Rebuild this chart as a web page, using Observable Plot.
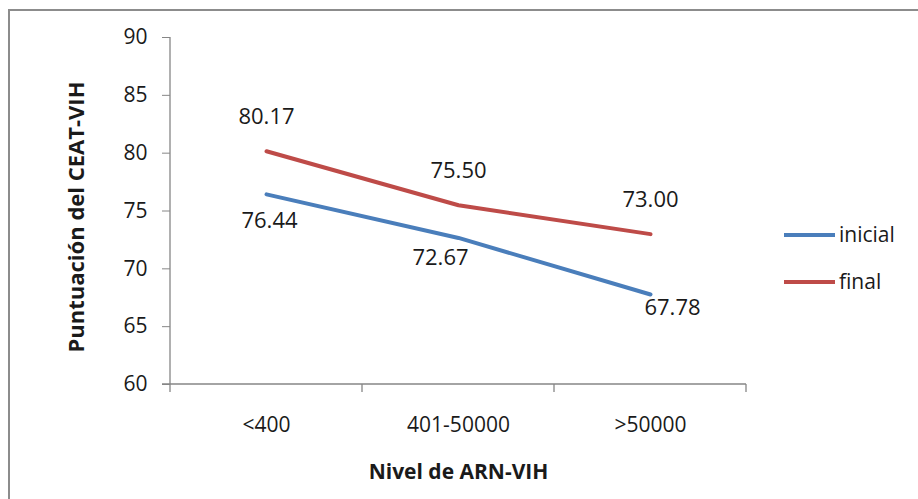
<!DOCTYPE html>
<html>
<head>
<meta charset="utf-8">
<script src="https://cdn.jsdelivr.net/npm/d3@7"></script>
<script src="https://cdn.jsdelivr.net/npm/@observablehq/plot@0.6"></script>
<style>
  html, body { margin: 0; padding: 0; background: #fff; }
  #wrap { position: relative; width: 918px; height: 499px; overflow: hidden; background: #fff; }
  #border { position: absolute; left: 8px; top: 9px; width: 1000px; height: 1000px; border: 2px solid #8c8c8c; box-sizing: border-box; }
  #chart { position: absolute; left: 0; top: 0; }
</style>
</head>
<body>
<div id="wrap"><div id="border"></div><div id="chart"></div></div>
<script>
const categories = ["<400", "401-50000", ">50000"];
const series = ["inicial", "final"];
const inicialValues = [76.44, 72.67, 67.78];
const finalValues = [80.17, 75.50, 73.00];
const yTicks = [60, 65, 70, 75, 80, 85, 90];
const colors = ["#4a7ebb", "#be4b48"];

const data = [];
categories.forEach((c, i) => {
  data.push({cat: c, series: "inicial", value: inicialValues[i]});
  data.push({cat: c, series: "final", value: finalValues[i]});
});
const font = "'Open Sans', sans-serif";
const axisColor = "#868686";
const textColor = "#1a1a1a";

function frameMark(index, scales, values, dims) {
  const x = scales.x, y = scales.y;
  const g = d3.create("svg:g");
  const x0 = x(categories[0]);
  const xEnd = x(categories[categories.length - 1]) + x.bandwidth();
  const yBottom = y(yTicks[0]), yTop = y(yTicks[yTicks.length - 1]);
  g.append("line").attr("x1", x0).attr("x2", x0).attr("y1", yTop).attr("y2", yBottom + 8)
    .attr("stroke", axisColor).attr("stroke-width", 1.3);
  g.append("line").attr("x1", x0 - 8).attr("x2", xEnd).attr("y1", yBottom).attr("y2", yBottom)
    .attr("stroke", axisColor).attr("stroke-width", 1.3);
  const bounds = categories.map(c => x(c)).concat([xEnd]);
  bounds.slice(1).forEach(b => {
    g.append("line").attr("x1", b).attr("x2", b).attr("y1", yBottom).attr("y2", yBottom + 8)
      .attr("stroke", axisColor).attr("stroke-width", 1.3);
  });
  // legend
  const lx = 784, ly = [235, 282];
  series.forEach((s, i) => {
    g.append("line").attr("x1", lx).attr("x2", lx + 51).attr("y1", ly[i]).attr("y2", ly[i])
      .attr("stroke", scales.color(s)).attr("stroke-width", 4);
    g.append("text").attr("x", lx + 55).attr("y", ly[i]).attr("dy", "0.35em")
      .attr("text-anchor", "start")
      .attr("font-family", font).attr("font-size", 21).attr("fill", textColor).text(s);
  });
  return g.node();
}

const lbl = d => d.value.toFixed(2);
const isI = (c) => d => d.series === "inicial" && d.cat === c;

const plot = Plot.plot({
  width: 918,
  height: 499,
  marginLeft: 170,
  marginRight: 172,
  marginTop: 37,
  marginBottom: 115,
  style: {fontFamily: font, fontSize: "21px", color: textColor, background: "transparent"},
  x: {type: "band", domain: categories, padding: 0, label: null},
  y: {domain: [60, 90], label: null},
  color: {domain: series, range: colors},
  marks: [
    Plot.axisY({ticks: yTicks, tickSize: 8, tickPadding: 15, stroke: axisColor, fill: textColor, fontSize: 21, label: null}),
    Plot.axisX({tickSize: 0, tickPadding: 33, fill: textColor, fontSize: 21, label: null}),
    frameMark,
    Plot.line(data, {x: "cat", y: "value", z: "series", stroke: "series", strokeWidth: 4}),
    Plot.text(data, {filter: d => d.series === "final", x: "cat", y: "value", text: lbl, dy: -34, fill: textColor, fontSize: 22}),
    Plot.text(data, {filter: isI(categories[0]), x: "cat", y: "value", text: lbl, dx: 3, dy: 27, fill: textColor, fontSize: 22}),
    Plot.text(data, {filter: isI(categories[1]), x: "cat", y: "value", text: lbl, dx: -18, dy: 20, fill: textColor, fontSize: 22}),
    Plot.text(data, {filter: isI(categories[2]), x: "cat", y: "value", text: lbl, dx: 22, dy: 13, fill: textColor, fontSize: 22}),
    Plot.text(["Puntuación del CEAT-VIH"], {frameAnchor: "left", textAnchor: "middle", dx: -94, dy: 6, rotate: -90, fontWeight: "bold", fontSize: 22, fill: textColor}),
    Plot.text(["Nivel de ARN-VIH"], {frameAnchor: "bottom", dy: 94, fontWeight: "bold", fontSize: 21, fill: textColor})
  ]
});
document.getElementById("chart").appendChild(plot);
</script>
</body>
</html>
